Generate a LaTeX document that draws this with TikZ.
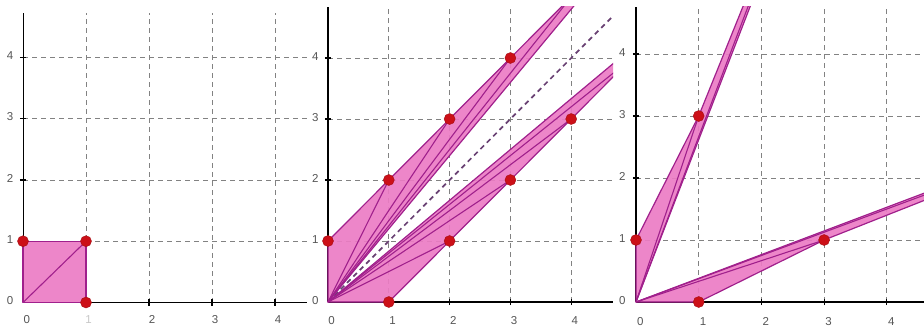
\documentclass[tikz,border=0pt]{standalone}
\usepackage{fontspec}
\setmainfont{Liberation Sans}
\definecolor{sailpink}{RGB}{236,124,196}
\definecolor{sailline}{RGB}{160,32,140}
\definecolor{dotred}{RGB}{204,16,24}
\definecolor{gridgray}{RGB}{130,130,130}
\definecolor{lblgray}{RGB}{85,85,85}
\definecolor{diagpurple}{RGB}{105,65,115}
\begin{document}
\begin{tikzpicture}[x=1pt,y=-1pt,
  pinkfill/.style={fill=sailpink, fill opacity=0.92, draw=sailline, draw opacity=1, line width=1.2pt, line join=round},
  rayline/.style={draw=sailline, line width=1.1pt},
  gridline/.style={draw=gridgray, line width=0.7pt, dash pattern=on 5pt off 4pt},
  axisline/.style={draw=black, line width=1.8pt},
  thinaxis/.style={draw=black, line width=0.9pt},
  tickmark/.style={draw=black, line width=1.2pt},
  ptdot/.style={circle, fill=dotred, draw=dotred!80!black, line width=0.4pt, inner sep=0pt, minimum size=11pt},
  lbl/.style={text=lblgray, font=\fontsize{11.5}{13}\selectfont, inner sep=0pt},
  diag/.style={draw=diagpurple, line width=1.7pt, dash pattern=on 5pt off 4pt}]
\useasboundingbox (0,0) rectangle (924,327);

% ---------------- Panel 1 ----------------
\begin{scope}[shift={(23,302.5)}, x=63pt, y=61.3pt]
  \foreach \i in {1,...,4} {
    \draw[gridline] (\i,0) -- (\i,4.72);
    \draw[gridline] (0,\i) -- (4.51,\i);
  }
  \draw[thinaxis] (0,0) -- (0,4.72);
  \draw[axisline] (0,0) -- (4.51,0);
  \foreach \i in {2,3,4} {
    \draw[tickmark] (\i,-0.05) -- (\i,0.05);
    \draw[tickmark] (-0.05,\i) -- (0.05,\i);
  }
  \coordinate (a00) at (0,0);
  \coordinate (a10) at (1,0);
  \coordinate (a11) at (1,1);
  \coordinate (a01) at (0,1);
  \draw[pinkfill] (a00) -- (a10) -- (a11) -- (a01) -- cycle;
  \draw[rayline] (a00) -- (a11);
  \node[ptdot] (da01) at (a01) {};
  \node[ptdot] (da11) at (a11) {};
  \node[ptdot] (da10) at (a10) {};
  \foreach \i in {0,...,4} {
    \node[lbl] (ay\i) at (-0.206,\i+0.03) {\i};
  }
  \node[lbl] (ax0) at (0.06,-0.27) {0};
  \node[lbl, text=black!22] (ax1) at (1.04,-0.27) {1};
  \foreach \i in {2,3,4} {
    \node[lbl] (ax\i) at (\i+0.05,-0.27) {\i};
  }
\end{scope}

% ---------------- Panel 2 ----------------
\begin{scope}[shift={(328,302)}, x=60.8pt, y=61pt]
  \foreach \i in {1,...,4} {
    \draw[gridline] (\i,0) -- (\i,4.84);
    \draw[gridline] (0,\i) -- (4.69,\i);
  }
  \draw[axisline] (0,0) -- (0,4.84);
  \draw[axisline] (0,0) -- (4.69,0);
  \foreach \i in {2,3,4} {
    \draw[tickmark] (\i,-0.05) -- (\i,0.05);
    \draw[tickmark] (-0.05,\i) -- (0.05,\i);
  }
  \coordinate (b00) at (0,0);
  \coordinate (b01) at (0,1);
  \coordinate (b12) at (1,2);
  \coordinate (b23) at (2,3);
  \coordinate (b34) at (3,4);
  \coordinate (b45) at (4,5);
  \coordinate (b56) at (5,6);
  \coordinate (b10) at (1,0);
  \coordinate (b21) at (2,1);
  \coordinate (b32) at (3,2);
  \coordinate (b43) at (4,3);
  \coordinate (b54) at (5,4);
  \coordinate (b65) at (6,5);
  \coordinate (bdiag) at (5,5);
  \begin{scope}
    \clip (-0.3,-0.3) rectangle (4.69,4.84);
    \draw[diag] (b00) -- (bdiag);
    \draw[pinkfill] (b00) -- (b01) -- (b56) -- cycle;
    \draw[pinkfill] (b00) -- (b10) -- (b65) -- cycle;
    \foreach \p in {b12,b23,b34,b45,b21,b32,b43,b54} {
      \draw[rayline] (b00) -- (\p);
    }
  \end{scope}
  \foreach \p in {b01,b12,b23,b34,b10,b21,b32,b43} {
    \node[ptdot] (d\p) at (\p) {};
  }
  \foreach \i in {0,...,4} {
    \node[lbl] (by\i) at (-0.21,\i+0.03) {\i};
    \node[lbl] (bx\i) at (\i+0.06,-0.3) {\i};
  }
\end{scope}

% ---------------- Panel 3 ----------------
\begin{scope}[shift={(636,302)}, x=62.7pt, y=62pt]
  \foreach \i in {1,...,4} {
    \draw[gridline] (\i,0) -- (\i,4.76);
    \draw[gridline] (0,\i) -- (4.59,\i);
  }
  \draw[axisline] (0,0) -- (0,4.76);
  \draw[axisline] (0,0) -- (4.59,0);
  \foreach \i in {2,3,4} {
    \draw[tickmark] (\i,-0.05) -- (\i,0.05);
    \draw[tickmark] (-0.05,\i) -- (0.05,\i);
  }
  \coordinate (c00) at (0,0);
  \coordinate (c01) at (0,1);
  \coordinate (c13) at (1,3);
  \coordinate (c38) at (3,8);
  \coordinate (cup) at (3.056,8);
  \coordinate (c10) at (1,0);
  \coordinate (c31) at (3,1);
  \coordinate (c83) at (8,3);
  \coordinate (clo) at (8,3.056);
  \begin{scope}
    \clip (-0.3,-0.3) rectangle (4.59,4.76);
    \draw[pinkfill] (c00) -- (c01) -- (c13) -- (c38) -- (cup) -- cycle;
    \draw[pinkfill] (c00) -- (c10) -- (c31) -- (c83) -- (clo) -- cycle;
    \foreach \p in {c13,c38,c31,c83} {
      \draw[rayline] (c00) -- (\p);
    }
  \end{scope}
  \foreach \p in {c01,c13,c10,c31} {
    \node[ptdot] (d\p) at (\p) {};
  }
  \foreach \i in {0,...,4} {
    \node[lbl] (cy\i) at (-0.22,\i+0.03) {\i};
    \node[lbl] (cx\i) at (\i+0.07,-0.32) {\i};
  }
\end{scope}
\end{tikzpicture}
\end{document}
